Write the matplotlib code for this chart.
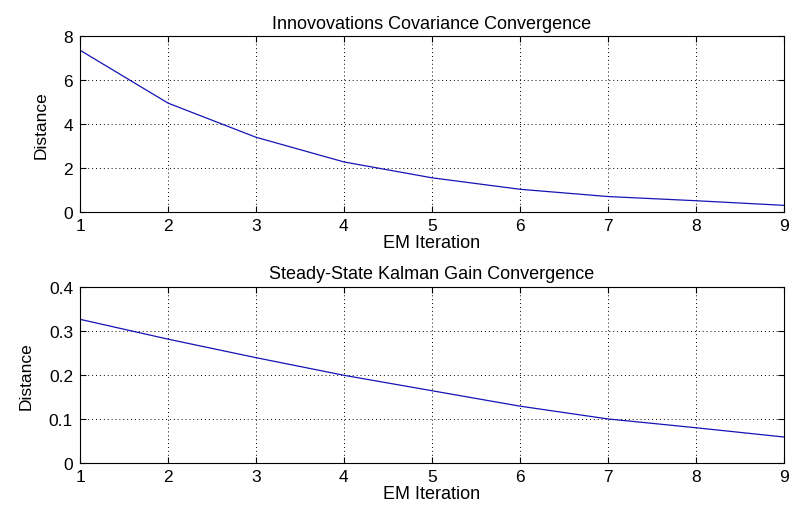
import numpy as np
import matplotlib
matplotlib.use("Agg")
import matplotlib.pyplot as plt

plt.rcParams['font.family'] = ['Liberation Sans', 'DejaVu Sans']

# EM iterations and distances
iterations = [1, 2, 3, 4, 5, 6, 7, 8, 9]
cov_distance = [7.35, 4.95, 3.40, 2.28, 1.56, 1.04, 0.71, 0.52, 0.31]
gain_distance = [0.326, 0.281, 0.239, 0.199, 0.164, 0.129, 0.100, 0.080, 0.059]

fig = plt.figure(figsize=(7.89, 5.10), dpi=100)

ax1 = fig.add_axes([0.1014, 0.582, 0.892, 0.3457])
ax2 = fig.add_axes([0.1014, 0.0902, 0.892, 0.3457])

def matlab_style(ax, title, ymax, yticks):
    ax.set_xlim(1, 9)
    ax.set_ylim(0, ymax)
    ax.set_xticks(iterations)
    ax.set_yticks(yticks)
    ax.grid(True, color='black', linestyle=(0, (1, 3)), linewidth=0.7)
    ax.tick_params(direction='in', top=True, right=True, labelsize=12.5, length=4)
    ax.tick_params(axis='x', pad=4)
    ax.tick_params(axis='y', pad=5)
    for s in ax.spines.values():
        s.set_linewidth(0.8)
    ax.set_title(title, fontsize=13, pad=6)
    ax.set_xlabel("EM Iteration", fontsize=13, labelpad=1)
    ax.set_ylabel("Distance", fontsize=12.5, labelpad=11)

ax1.plot(iterations, cov_distance, color='#1414b4', linewidth=0.9)
matlab_style(ax1, "Innovovations Covariance Convergence", 8, [0, 2, 4, 6, 8])

ax2.plot(iterations, gain_distance, color='#1414b4', linewidth=0.9)
matlab_style(ax2, "Steady-State Kalman Gain Convergence", 0.4, [0, 0.1, 0.2, 0.3, 0.4])
ax2.set_yticklabels(['0', '0.1', '0.2', '0.3', '0.4'])

fig.savefig("out.png", dpi=100)
